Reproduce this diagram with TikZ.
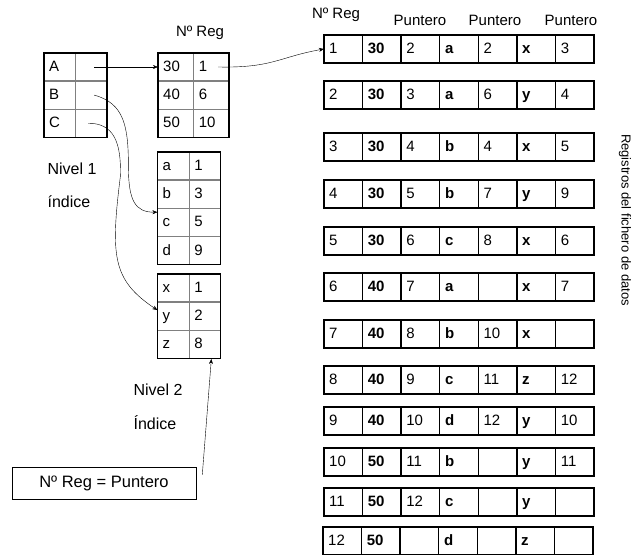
\documentclass[tikz,border=0pt]{standalone}
\usepackage{fontspec}
\setmainfont{Liberation Sans}
\usetikzlibrary{positioning,arrows.meta,fit,shapes.multipart}
\tikzset{
  fila/.style={rectangle split, rectangle split horizontal, rectangle split parts=#1,
    rectangle split ignore empty parts=false, draw=gray, line width=0.6pt,
    inner xsep=5pt, inner ysep=5.85pt,
    font={\fontsize{15}{17}\selectfont\rule[-3.2pt]{0pt}{15.8pt}}},
  indice/.style={fila=2, text width=21pt},
  numreg/.style={fila=2, text width=25pt},
  registro/.style={fila=7, text width=28pt, inner ysep=6pt,
    postaction={draw=black, line width=1.5pt}},
  marco/.style={draw, line width=1.5pt, inner sep=0pt},
  etq/.style={font=\fontsize{15}{18}\selectfont, inner sep=0pt},
  >={Stealth[length=5pt,width=4pt]},
}
\begin{document}
\begin{tikzpicture}[x=1pt, y=-1pt]
\useasboundingbox (0,0) rectangle (641,555);

% indice de nivel 1
\node[indice] (i1a) at (75.5,67) {A \nodepart{two}};
\node[indice, below=0pt of i1a] (i1b) {B \nodepart{two}};
\node[indice, below=0pt of i1b] (i1c) {C \nodepart{two}};
\node[marco, fit=(i1a)(i1c)] (t1) {};
\node[etq, font=\fontsize{16}{19}\selectfont] (niv1) at (72,169) {Nivel 1};
\node[etq, font=\fontsize{16}{19}\selectfont] (ind1) at (69,202) {índice};

% Nº Reg de cada clave
\node[etq] (hnreg) at (200,33) {Nº Reg};
\node[numreg] (n30) at (193.5,67) {30 \nodepart{two}1};
\node[numreg, below=0pt of n30] (n40) {40 \nodepart{two}6};
\node[numreg, below=0pt of n40] (n50) {50 \nodepart{two}10};
\node[marco, fit=(n30)(n50)] (t2) {};

% indices de nivel 2
\node[indice] (la) at (189,166) {a \nodepart{two}1};
\node[indice, below=0pt of la] (lb) {b \nodepart{two}3};
\node[indice, below=0pt of lb] (lc) {c \nodepart{two}5};
\node[indice, below=0pt of lc] (ld) {d \nodepart{two}9};
\node[marco, fit=(la)(ld)] (t3) {};

\node[indice] (lx) at (189,288) {x \nodepart{two}1};
\node[indice, below=0pt of lx] (ly) {y \nodepart{two}2};
\node[indice, below=0pt of ly] (lz) {z \nodepart{two}8};
\node[marco, fit=(lx)(lz)] (t4) {};
\node[etq, font=\fontsize{16}{19}\selectfont] (niv2) at (158,390) {Nivel 2};
\node[etq, font=\fontsize{16}{19}\selectfont] (ind2) at (155,423) {Índice};

\node[draw, line width=0.6pt, minimum width=184pt, minimum height=32pt, etq,
  font=\fontsize{16.5}{19}\selectfont] (caja) at (104,483) {Nº Reg = Puntero};

% fichero de datos
\node[etq] (hreg) at (336,15) {Nº Reg};
\node[etq] (hp1) at (420,20) {Puntero};
\node[etq] (hp2) at (495,20) {Puntero};
\node[etq] (hp3) at (571,20) {Puntero};

\node[registro] (r1) at (459,49) {1 \nodepart{two}\textbf{30} \nodepart{three}2 \nodepart{four}\textbf{a} \nodepart{five}2 \nodepart{six}\textbf{x} \nodepart{seven}3};
\node[registro] (r2) at (459,95) {2 \nodepart{two}\textbf{30} \nodepart{three}3 \nodepart{four}\textbf{a} \nodepart{five}6 \nodepart{six}\textbf{y} \nodepart{seven}4};
\node[registro] (r3) at (459,147) {3 \nodepart{two}\textbf{30} \nodepart{three}4 \nodepart{four}\textbf{b} \nodepart{five}4 \nodepart{six}\textbf{x} \nodepart{seven}5};
\node[registro] (r4) at (459,194) {4 \nodepart{two}\textbf{30} \nodepart{three}5 \nodepart{four}\textbf{b} \nodepart{five}7 \nodepart{six}\textbf{y} \nodepart{seven}9};
\node[registro] (r5) at (459,241) {5 \nodepart{two}\textbf{30} \nodepart{three}6 \nodepart{four}\textbf{c} \nodepart{five}8 \nodepart{six}\textbf{x} \nodepart{seven}6};
\node[registro] (r6) at (459,287) {6 \nodepart{two}\textbf{40} \nodepart{three}7 \nodepart{four}\textbf{a} \nodepart{five} \nodepart{six}\textbf{x} \nodepart{seven}7};
\node[registro] (r7) at (459,334) {7 \nodepart{two}\textbf{40} \nodepart{three}8 \nodepart{four}\textbf{b} \nodepart{five}10 \nodepart{six}\textbf{x} \nodepart{seven}};
\node[registro] (r8) at (459,380) {8 \nodepart{two}\textbf{40} \nodepart{three}9 \nodepart{four}\textbf{c} \nodepart{five}11 \nodepart{six}\textbf{z} \nodepart{seven}12};
\node[registro] (r9) at (459,421) {9 \nodepart{two}\textbf{40} \nodepart{three}10 \nodepart{four}\textbf{d} \nodepart{five}12 \nodepart{six}\textbf{y} \nodepart{seven}10};
\node[registro] (r10) at (459,462) {10 \nodepart{two}\textbf{50} \nodepart{three}11 \nodepart{four}\textbf{b} \nodepart{five} \nodepart{six}\textbf{y} \nodepart{seven}11};
\node[registro] (r11) at (459,502) {11 \nodepart{two}\textbf{50} \nodepart{three}12 \nodepart{four}\textbf{c} \nodepart{five} \nodepart{six}\textbf{y} \nodepart{seven}};
\node[registro] (r12) at (458,541) {12 \nodepart{two}\textbf{50} \nodepart{three} \nodepart{four}\textbf{d} \nodepart{five} \nodepart{six}\textbf{z} \nodepart{seven}};
\node[etq, font=\fontsize{13}{16}\selectfont, rotate=-90] (fich) at (625,220) {Registros del fichero de datos};

% punteros
\draw[->] ([xshift=-13pt]i1a.east) -- (n30.west);
\draw[->] ([xshift=-11pt]n30.east) .. controls +(55,1) and +(-45,8) .. (r1.west);
\draw[->] ([xshift=-13pt]i1b.east) .. controls +(30,8) and +(0,-40) .. ([xshift=-29pt,yshift=56pt]lc.west)
  .. controls +(0,35) and +(-22,0) .. ([yshift=10pt]lc.west);
\draw[->] ([xshift=-19pt]i1c.east) .. controls +(25,0) and +(1,-35) .. ([xshift=-37pt,yshift=140pt]ly.west)
  .. controls +(-10,80) and +(-45,-30) .. ([yshift=6pt]ly.west);
\draw[->] ([xshift=6pt,yshift=-8pt]caja.north east) -- ([xshift=-10pt]t4.south east);
\end{tikzpicture}
\end{document}
